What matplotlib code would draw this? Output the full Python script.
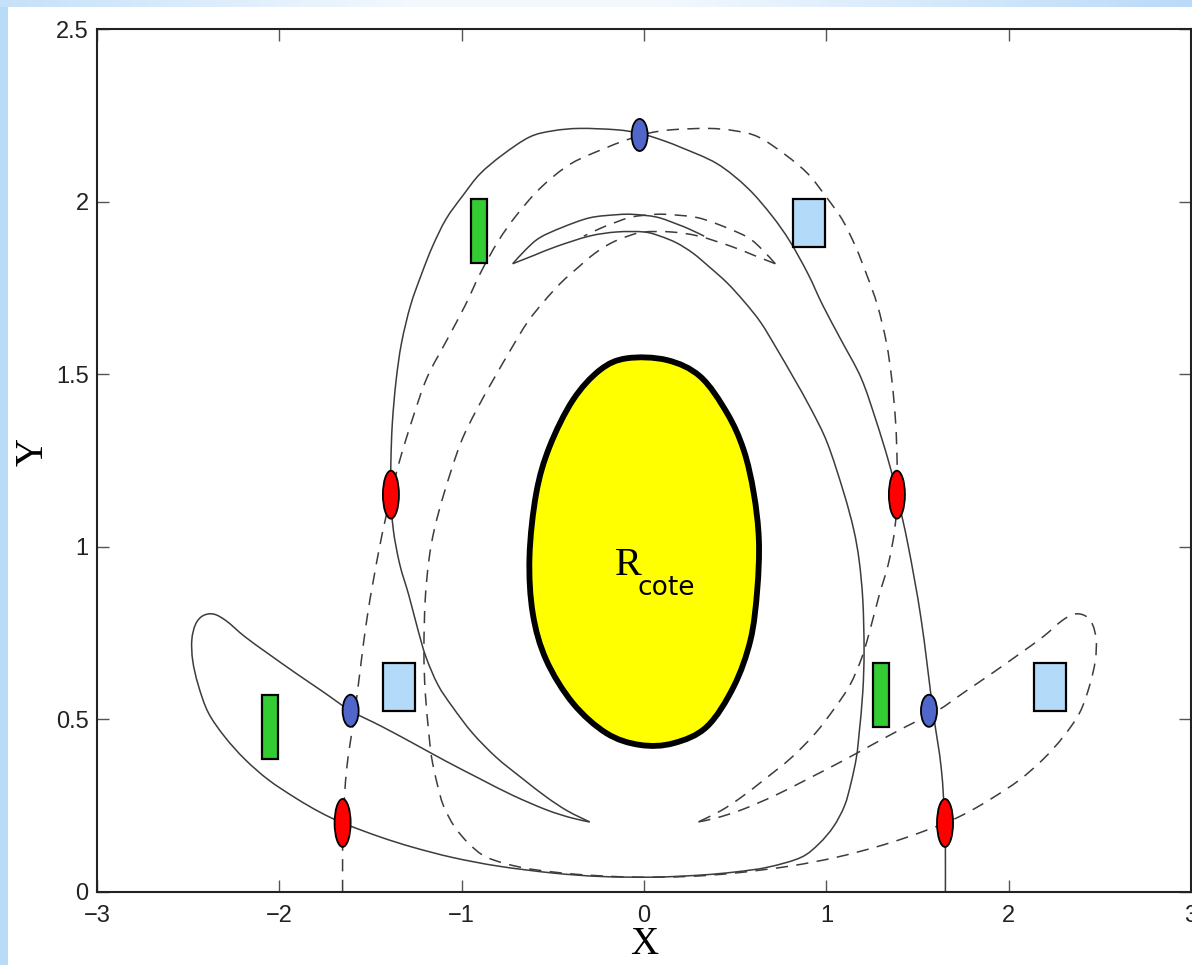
import numpy as np
import matplotlib
matplotlib.use("Agg")
import matplotlib.pyplot as plt
from matplotlib.patches import Ellipse, Rectangle, PathPatch
from matplotlib.path import Path

# solid manifold; the dashed one is its mirror in X
branch_x = [1.653, 1.653, 1.650, 1.630, 1.585, 1.520, 1.450, 1.388, 1.340, 1.270,
            1.190, 1.080, 0.980, 0.900, 0.800, 0.700, 0.567, 0.400, 0.198,
            0.088, -0.024, -0.150, -0.353, -0.500, -0.628, -0.777, -0.900, -0.990, -1.085,
            -1.160, -1.220, -1.280, -1.330, -1.360, -1.380, -1.388, -1.388, -1.375, -1.340,
            -1.290, -1.240, -1.196, -1.130, -1.050, -0.940, -0.810, -0.670, -0.535, -0.420,
            -0.298,
            -0.400, -0.535, -0.720, -0.900, -1.090, -1.270, -1.440, -1.609, -1.760, -1.910,
            -2.060, -2.190, -2.290, -2.360, -2.420, -2.460, -2.480, -2.475, -2.445, -2.390,
            -2.300, -2.190, -2.060, -1.910, -1.780, -1.653, -1.450, -1.270, -1.050, -0.800,
            -0.500, -0.240, 0.050, 0.310, 0.500, 0.680, 0.860, 0.960, 1.040, 1.100,
            1.135, 1.165, 1.180, 1.200, 1.207, 1.200, 1.180, 1.150, 1.096, 1.006,
            0.915, 0.820, 0.730, 0.640, 0.550, 0.457, 0.360, 0.270, 0.180, 0.088,
            0.000, -0.150, -0.300, -0.480, -0.600, -0.720,
            -0.650, -0.573, -0.450, -0.298, -0.150, -0.060, 0.070, 0.180, 0.250, 0.330]
branch_y = [0.000, 0.120, 0.203, 0.360, 0.525, 0.790, 1.000, 1.150, 1.250, 1.370,
            1.490, 1.600, 1.700, 1.790, 1.885, 1.960, 2.040, 2.110, 2.158,
            2.180, 2.198, 2.208, 2.212, 2.205, 2.187, 2.135, 2.080, 2.020, 1.950,
            1.870, 1.790, 1.700, 1.590, 1.480, 1.360, 1.250, 1.150, 1.050, 0.950,
            0.860, 0.760, 0.681, 0.600, 0.536, 0.460, 0.390, 0.330, 0.275, 0.235,
            0.203,
            0.215, 0.238, 0.280, 0.328, 0.380, 0.432, 0.480, 0.525, 0.580, 0.634,
            0.690, 0.740, 0.785, 0.805, 0.800, 0.775, 0.730, 0.670, 0.600, 0.520,
            0.450, 0.385, 0.325, 0.272, 0.232, 0.200, 0.160, 0.130, 0.100, 0.075,
            0.055, 0.045, 0.043, 0.049, 0.058, 0.072, 0.100, 0.140, 0.190, 0.250,
            0.315, 0.390, 0.460, 0.580, 0.700, 0.846, 0.960, 1.050, 1.156, 1.300,
            1.400, 1.490, 1.572, 1.650, 1.710, 1.764, 1.810, 1.850, 1.880, 1.900,
            1.912, 1.912, 1.900, 1.870, 1.845, 1.820,
            1.860, 1.895, 1.925, 1.953, 1.962, 1.963, 1.955, 1.935, 1.920, 1.900]
# indices of the two sharp tips of the solid curve
tip_idx = [49, 115]

# outline of the core region
core_x = [-0.095, 0.125, 0.309, 0.456, 0.547, 0.602, 0.630, 0.621, 0.584, 0.492, 0.345,
          0.162, -0.022, -0.206, -0.390, -0.536, -0.610, -0.628, -0.591, -0.518, -0.390, -0.242]
core_y = [1.546, 1.541, 1.493, 1.387, 1.280, 1.155, 1.020, 0.875, 0.730, 0.595, 0.479,
          0.431, 0.426, 0.460, 0.547, 0.672, 0.807, 0.971, 1.155, 1.290, 1.425, 1.512]

# markers
red_x = [-1.388, 1.387, -1.653, 1.651]
red_y = [1.151, 1.151, 0.200, 0.200]
blue_x = [-1.609, 1.563, -0.024]
blue_y = [0.525, 0.525, 2.193]
green_x = [-2.05, 1.30, -0.904]
green_y = [0.479, 0.571, 1.915]
box_x = [-1.344, 2.226, 0.904]
box_y = [0.594, 0.594, 1.939]

x_ticks = [-3, -2, -1, 0, 1, 2, 3]
y_ticks = [0, 0.5, 1, 1.5, 2, 2.5]
y_ticklabels = ["0", "0.5", "1", "1.5", "2", "2.5"]


def smooth_path(xs, ys, closed=False):
    """Bezier path through the given points (Catmull-Rom tangents)."""
    pts = np.column_stack([xs, ys]).astype(float)
    if closed:
        ext = np.vstack([pts[-1], pts, pts[0], pts[1]])
    else:
        ext = np.vstack([pts[0], pts, pts[-1]])
    verts = [pts[0]]
    codes = [Path.MOVETO]
    for i in range(1, len(ext) - 2):
        p0, p1, p2, p3 = ext[i - 1], ext[i], ext[i + 1], ext[i + 2]
        verts += [p1 + (p2 - p0) / 6, p2 - (p3 - p1) / 6, p2]
        codes += [Path.CURVE4] * 3
    if closed:
        verts.append(pts[0])
        codes.append(Path.CLOSEPOLY)
    return Path(verts, codes)


def branch_pieces(xs, ys):
    cuts = [0] + tip_idx + [len(xs) - 1]
    return [(xs[a:b + 1], ys[a:b + 1]) for a, b in zip(cuts[:-1], cuts[1:])]


fig = plt.figure(figsize=(11.92, 9.65), dpi=100)
fig.patch.set_facecolor("white")

# light blue slide frame (left strip + top gradient)
left = fig.add_axes([0, 0, 8 / 1192, 1])
left.set_facecolor((0.72, 0.86, 0.97))
left.set_xticks([]); left.set_yticks([])
for s in left.spines.values():
    s.set_visible(False)
top = fig.add_axes([0, 1 - 7 / 965, 1, 7 / 965])
pos = np.linspace(0, 1, 400)
strength = np.interp(pos, [0, 0.35, 0.55, 1], [0.75, 0.15, 0.15, 0.9])
rgb = np.ones((1, 400, 3))
rgb[0, :, 0] = 1 - strength * 0.30
rgb[0, :, 1] = 1 - strength * 0.16
rgb[0, :, 2] = 1 - strength * 0.03
top.imshow(rgb, aspect="auto", extent=[0, 1, 0, 1])
top.axis("off")

ax = fig.add_axes([97 / 1192, 73 / 965, 1094 / 1192, 863 / 965])
ax.set_xlim(-3, 3)
ax.set_ylim(0, 2.5)

line_col = "#3c3c3c"
for px, py in branch_pieces(branch_x, branch_y):
    ax.add_patch(PathPatch(smooth_path(px, py), fill=False, edgecolor=line_col,
                           lw=1.1, zorder=2))
    ax.add_patch(PathPatch(smooth_path([-v for v in px], py), fill=False,
                           edgecolor=line_col, lw=1.1, linestyle=(0, (8, 5.5)),
                           zorder=2))

ax.add_patch(PathPatch(smooth_path(core_x, core_y, closed=True), facecolor="#ffff00",
                       edgecolor="black", lw=4.2, zorder=3))
ax.text(-0.16, 0.918, "R", fontsize=29, family="Liberation Serif", zorder=4)
ax.text(-0.033, 0.860, "cote", fontsize=19, family="DejaVu Sans", zorder=4)

for x, y in zip(red_x, red_y):
    ax.add_patch(Ellipse((x, y), 0.088, 0.139, facecolor="#ff0000",
                         edgecolor="black", lw=1.3, zorder=5))
for x, y in zip(blue_x, blue_y):
    ax.add_patch(Ellipse((x, y), 0.088, 0.093, facecolor="#5066c8",
                         edgecolor="black", lw=1.3, zorder=5))
for x, y in zip(green_x, green_y):
    ax.add_patch(Rectangle((x - 0.044, y - 0.093), 0.088, 0.186,
                           facecolor="#33cc33", edgecolor="black", lw=1.6, zorder=5))
for x, y in zip(box_x, box_y):
    ax.add_patch(Rectangle((x - 0.088, y - 0.0695), 0.176, 0.139,
                           facecolor="#b3dbf9", edgecolor="black", lw=1.6, zorder=5))

ax.set_xticks(x_ticks)
ax.set_xticklabels([str(t).replace("-", "\u2212") for t in x_ticks])
ax.set_yticks(y_ticks)
ax.set_yticklabels(y_ticklabels)
ax.tick_params(direction="in", length=8.5, width=1, color="#555555",
               top=True, right=True, labelsize=17, labelcolor="#222222")
ax.tick_params(axis="x", pad=9)
ax.tick_params(axis="y", pad=6)
for lab in ax.get_xticklabels() + ax.get_yticklabels():
    lab.set_family("Liberation Sans")
for s in ax.spines.values():
    s.set_linewidth(1.5)
    s.set_color("#222222")

ax.set_xlabel("X", fontsize=28, family="Liberation Serif", va="center")
ax.xaxis.set_label_coords(0.5, (892 - 945) / 863)
ax.set_ylabel("Y", fontsize=28, family="Liberation Serif", va="center")
ax.yaxis.set_label_coords((33 - 97) / 1094, (892 - 452) / 863)

fig.savefig("out.png", dpi=100)
